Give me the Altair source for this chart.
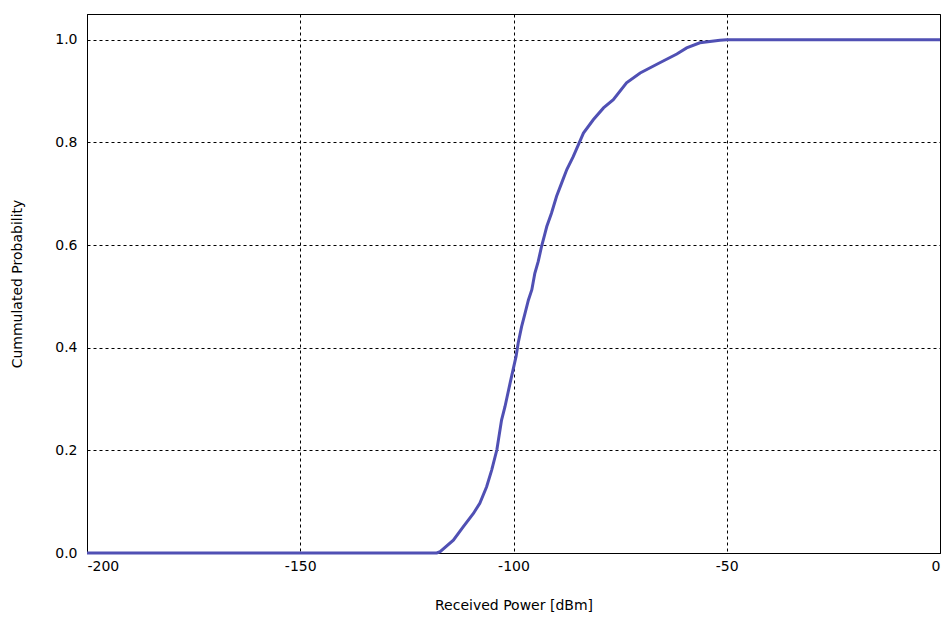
import altair as alt
import pandas as pd

power = [-200, -118.0, -117.2, -114.1, -111.8, -109.4, -107.9, -106.3, -105.1, -103.9,
         -102.8, -102.0, -100.8, -99.4, -98.9, -98.1, -97.3, -96.5, -95.7, -95.0,
         -94.2, -93.4, -92.6, -92.2, -91.1, -89.9, -88.7, -87.5, -86.0, -84.8,
         -83.6, -81.3, -78.9, -76.6, -73.5, -70.3, -65.7, -61.7, -59.4, -56.3,
         -51.6, -50.0, 0]
prob = [0.0, 0.0, 0.0025, 0.025, 0.051, 0.077, 0.097, 0.129, 0.162, 0.201,
        0.259, 0.285, 0.331, 0.383, 0.409, 0.441, 0.467, 0.493, 0.513, 0.545,
        0.568, 0.598, 0.623, 0.636, 0.662, 0.695, 0.721, 0.747, 0.772, 0.795,
        0.818, 0.844, 0.867, 0.883, 0.916, 0.935, 0.955, 0.972, 0.984, 0.994,
        0.999, 1.0, 1.0]

df = pd.DataFrame({"power": power, "prob": prob})

font = "DejaVu Sans"

chart = alt.Chart(df).mark_line(color="#5050B4", strokeWidth=3).encode(
    x=alt.X("power:Q", title="Received Power [dBm]",
            scale=alt.Scale(domain=[-200, 0], nice=False, zero=False),
            axis=alt.Axis(values=[-200, -150, -100, -50, 0], ticks=False,
                          labelExpr="toString(datum.value)",
                          labelPadding=6, titlePadding=25, grid=True)),
    y=alt.Y("prob:Q", title="Cummulated Probability",
            scale=alt.Scale(domain=[0, 1.05], nice=False),
            axis=alt.Axis(values=[0, 0.2, 0.4, 0.6, 0.8, 1.0], format=".1f", ticks=False,
                          labelPadding=10, titlePadding=30, grid=True)),
).properties(
    width=853, height=539,
    autosize=alt.AutoSizeParams(type="none"),
    padding={"left": 79, "top": 6, "right": 3, "bottom": 61},
).configure_view(
    stroke="black", strokeWidth=1
).configure_axis(
    domainColor="black", gridColor="black", gridDash=[3, 3], gridOpacity=1,
    gridWidth=1, labelFont=font, titleFont=font, labelFontSize=14, titleFontSize=14,
    labelColor="black", titleColor="black", titleFontWeight="normal"
)

chart.save("out.html", embed_options={"renderer": "svg", "actions": False})
